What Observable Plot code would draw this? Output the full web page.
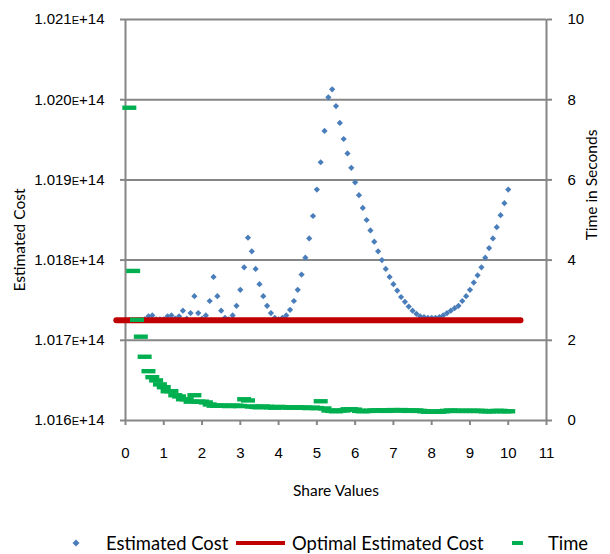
<!DOCTYPE html>
<html>
<head>
<meta charset="utf-8">
<script src="https://cdn.jsdelivr.net/npm/d3@7"></script>
<script src="https://cdn.jsdelivr.net/npm/@observablehq/plot@0.6"></script>
<style>
  body { margin: 0; background: #fff; }
  #chart { position: relative; width: 610px; height: 554px; overflow: hidden; background: #fff; }
  #chart svg { display: block; }
  .legend { position: absolute; left: 0; top: 520px; width: 610px; height: 34px;
            font-family: Lato, "Open Sans", sans-serif; font-size: 18.4px; color: #000; }
  .legend .item { position: absolute; top: 13px; height: 20px; line-height: 20px; white-space: nowrap; }
  .legend .sw { position: absolute; }
</style>
</head>
<body>
<div id="chart"></div>
<script>
// ---- data (cost in units of 1E+14) ----
const shareValues = [0.0,0.1,0.2,0.3,0.4,0.5,0.6,0.7,0.8,0.9,1.0,1.1,1.2,1.3,1.4,1.5,1.6,1.7,1.8,1.9,
  2.0,2.1,2.2,2.3,2.4,2.5,2.6,2.7,2.8,2.9,3.0,3.1,3.2,3.3,3.4,3.5,3.6,3.7,3.8,3.9,
  4.0,4.1,4.2,4.3,4.4,4.5,4.6,4.7,4.8,4.9,5.0,5.1,5.2,5.3,5.4,5.5,5.6,5.7,5.8,5.9,
  6.0,6.1,6.2,6.3,6.4,6.5,6.6,6.7,6.8,6.9,7.0,7.1,7.2,7.3,7.4,7.5,7.6,7.7,7.8,7.9,
  8.0,8.1,8.2,8.3,8.4,8.5,8.6,8.7,8.8,8.9,9.0,9.1,9.2,9.3,9.4,9.5,9.6,9.7,9.8,9.9,10.0];

const estimatedCost = [1.01725,1.01725,1.01725,1.01725,1.01725,1.01726,1.01730,1.01731,1.01726,1.01726,
  1.01726,1.01730,1.01731,1.01727,1.01730,1.01737,1.01727,1.01734,1.01755,1.01734,
  1.01727,1.01731,1.01749,1.01779,1.01755,1.01737,1.01728,1.01726,1.01731,1.01743,
  1.01763,1.01791,1.01828,1.01811,1.01789,1.01770,1.01755,1.01743,1.01734,1.01728,
  1.01726,1.01728,1.01731,1.01738,1.01749,1.01763,1.01782,1.01803,1.01827,1.01855,
  1.01888,1.01922,1.01961,1.02003,1.02013,1.01992,1.01971,1.01951,1.01933,1.01915,
  1.01897,1.01881,1.01865,1.01850,1.01837,1.01823,1.01811,1.01800,1.01789,1.01779,
  1.01770,1.01762,1.01754,1.01748,1.01742,1.01737,1.01733,1.01730,1.01729,1.01728,
  1.01728,1.01728,1.01729,1.01731,1.01734,1.01737,1.01740,1.01743,1.01749,1.01755,
  1.01763,1.01772,1.01781,1.01791,1.01803,1.01815,1.01827,1.01841,1.01856,1.01871,1.01888];

const timeSeconds = [null,7.80,3.73,2.51,2.09,1.59,1.23,1.08,1.00,0.90,
  0.83,0.73,0.73,0.63,0.60,0.53,0.53,0.47,0.63,0.47,
  0.47,0.45,0.40,0.37,0.37,0.37,0.37,0.36,0.37,0.37,
  0.36,0.53,0.50,0.35,0.34,0.33,0.35,0.34,0.33,0.32,
  0.34,0.33,0.33,0.32,0.32,0.33,0.32,0.32,0.31,0.32,
  0.31,0.48,0.30,0.25,0.24,0.23,0.25,0.25,0.28,0.28,
  0.27,0.24,0.23,0.24,0.24,0.25,0.25,0.25,0.24,0.25,
  0.26,0.25,0.26,0.25,0.24,0.25,0.25,0.24,0.23,0.22,
  0.22,0.22,0.22,0.23,0.24,0.25,0.24,0.24,0.24,0.24,
  0.24,0.24,0.24,0.24,0.23,0.23,0.23,0.24,0.24,0.23,0.23];

const optimalX = [-0.24, 10.32];
const optimalCost = [1.01725, 1.01725];

const xTicks = [0,1,2,3,4,5,6,7,8,9,10,11];
const costTicks = [1.016,1.017,1.018,1.019,1.020,1.021];
const costTickLabels = ["1.016E+14","1.017E+14","1.018E+14","1.019E+14","1.020E+14","1.021E+14"];
const timeTicks = [0,2,4,6,8,10];
const timeDomain = [0,10];

// ---- helpers ----
const costDomain = [costTicks[0], costTicks[costTicks.length-1]];
const timeToCost = t => costDomain[0] + (t - timeDomain[0]) / (timeDomain[1]-timeDomain[0]) * (costDomain[1]-costDomain[0]);
const near = (a,b) => Math.abs(a-b) < 1e-9;

const costRows = shareValues.map((x,i) => ({x, cost: estimatedCost[i]}));
const timeRows = shareValues.map((x,i) => ({x, time: timeSeconds[i]})).filter(d => d.time != null);
const optimalRows = optimalX.map((x,i) => ({x, cost: optimalCost[i]}));

const dashSymbol = { draw(ctx) { ctx.rect(-7, -2.2, 14, 4.4); } };
const axisColor = "#868686";

const svg = Plot.plot({
  width: 610, height: 520,
  marginLeft: 125, marginRight: 64, marginTop: 19, marginBottom: 100,
  x: {domain: [0, 11]},
  y: {domain: costDomain},
  style: {fontFamily: "'Liberation Sans', Arial, sans-serif", fontSize: "15px", color: "#000", background: "#fff", overflow: "visible"},
  marks: [
    Plot.ruleY(costTicks, {stroke: axisColor, strokeWidth: 2}),
    Plot.ruleX([0, 11], {stroke: axisColor, strokeWidth: 2}),
    Plot.axisX({ticks: xTicks, tickSize: 5, tickPadding: 22, stroke: axisColor, strokeWidth: 2, label: null, tickFormat: d => String(d)}),
    Plot.axisY({anchor: "left", ticks: costTicks, tickSize: 5, tickPadding: 16, stroke: axisColor, strokeWidth: 2, label: null,
      tickFormat: d => costTickLabels[costTicks.findIndex(c => near(c, d))]}),
    Plot.axisY({anchor: "right", ticks: timeTicks.map(timeToCost), tickSize: 5, tickPadding: 16, stroke: axisColor, strokeWidth: 2, label: null,
      tickFormat: d => String(timeTicks[timeTicks.findIndex(t => near(timeToCost(t), d))])}),
    Plot.dot(costRows, {x: "x", y: "cost", symbol: "diamond2", r: 2.8, fill: "#4A7EBB", stroke: "none"}),
    Plot.line(optimalRows, {x: "x", y: "cost", stroke: "#C00000", strokeWidth: 6}),
    Plot.dot(timeRows, {x: "x", y: d => timeToCost(d.time), symbol: dashSymbol, fill: "#00B050", stroke: "none"})
  ]
});

// small-caps style "E" in the scientific tick labels
d3.select(svg).selectAll("text").each(function() {
  const s = this.textContent;
  const m = /^(.*?)E(\+\d+)$/.exec(s);
  if (m && this.children.length === 0) {
    const t = d3.select(this);
    t.text(null);
    t.append("tspan").text(m[1]);
    t.append("tspan").attr("font-size", "11px").text("E");
    t.append("tspan").text(m[2]);
  }
});

// axis titles
const titleFont = "Lato, 'Open Sans', sans-serif";
const g = d3.select(svg).append("g").attr("font-family", titleFont).attr("font-size", "15.5px").attr("fill", "#000");
g.append("text").attr("transform", "translate(20,240) rotate(-90)").attr("text-anchor", "middle").attr("dy", "0.35em").text("Estimated Cost");
g.append("text").attr("transform", "translate(592,185) rotate(-90)").attr("text-anchor", "middle").attr("dy", "0.35em").text("Time in Seconds");
g.append("text").attr("x", 336).attr("y", 491).attr("text-anchor", "middle").attr("dy", "0.35em").text("Share Values");

const chart = document.getElementById("chart");
chart.appendChild(svg);

// legend
const legend = document.createElement("div");
legend.className = "legend";
legend.innerHTML = `
  <svg class="sw" style="left:72px;top:19px" width="8" height="8"><path d="M4,0.5L7.5,4L4,7.5L0.5,4Z" fill="#4A7EBB"/></svg>
  <span class="item" style="left:106px">Estimated Cost</span>
  <div class="sw" style="left:236px;top:21px;width:49px;height:4px;background:#C00000"></div>
  <span class="item" style="left:292px">Optimal Estimated Cost</span>
  <div class="sw" style="left:512px;top:21px;width:11px;height:4px;background:#00B050"></div>
  <span class="item" style="left:548px">Time</span>`;
chart.appendChild(legend);
</script>
</body>
</html>
